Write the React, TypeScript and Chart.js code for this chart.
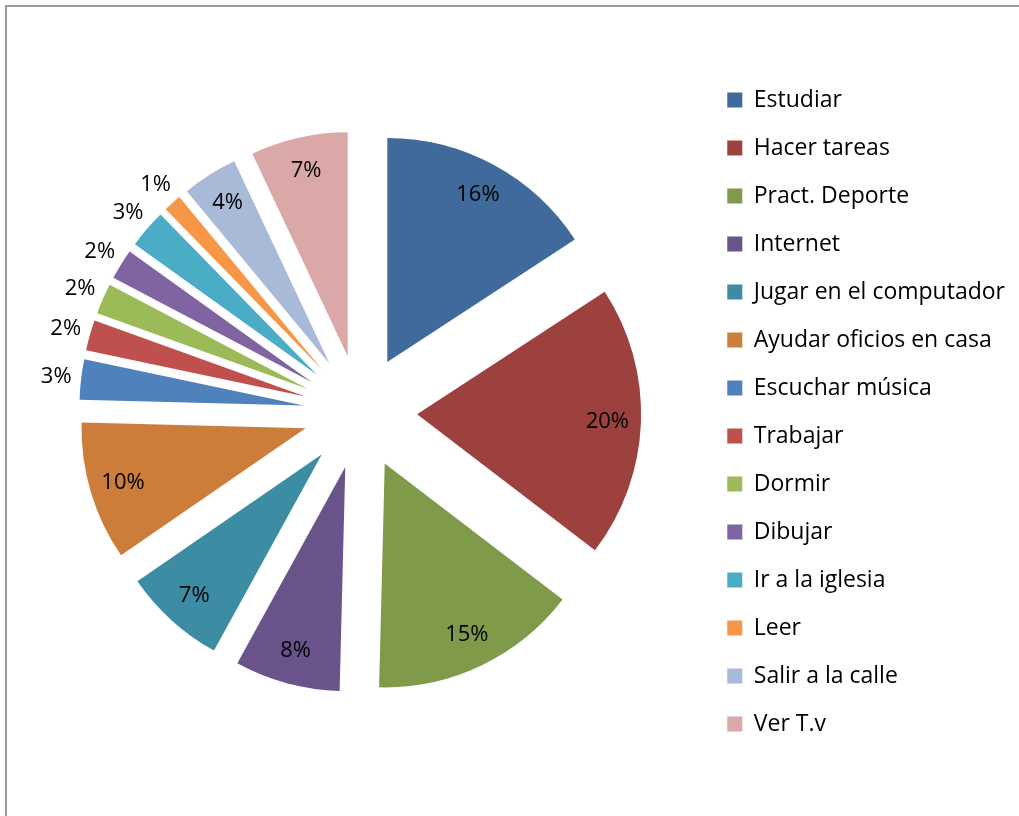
import React, { useEffect, useRef } from "react";
import { Chart, registerables } from "chart.js";

Chart.register(...registerables);

const categories = [
  "Estudiar",
  "Hacer tareas",
  "Pract. Deporte",
  "Internet",
  "Jugar en el computador",
  "Ayudar oficios en casa",
  "Escuchar música",
  "Trabajar",
  "Dormir",
  "Dibujar",
  "Ir a la iglesia",
  "Leer",
  "Salir a la calle",
  "Ver T.v",
];

const values = [15.8, 19.6, 15.0, 7.6, 7.4, 10.0, 2.9, 2.2, 2.2, 2.2, 2.8, 1.3, 4.0, 7.0];

const colors = [
  "#406A9B",
  "#9D413F",
  "#7F9A48",
  "#69538A",
  "#3C8DA3",
  "#CD7D3A",
  "#4F81BD",
  "#C0504D",
  "#9BBB59",
  "#8064A2",
  "#4BACC6",
  "#F79646",
  "#A9B9D8",
  "#D9A8A7",
];

const FONT = "'Open Sans', Lato, sans-serif";
const EXPLODE = 57;
const RADIUS = 224;
const FONT_SIZE = 23;
const LABEL_SIZE = 22;

const explodePlugin = {
  id: "explodeSlices",
  afterDatasetUpdate(chart: any, args: any) {
    const meta = chart.getDatasetMeta(args.index);
    meta.data.forEach((arc: any) => {
      const mid = (arc.startAngle + arc.endAngle) / 2;
      arc.x += Math.cos(mid) * EXPLODE;
      arc.y += Math.sin(mid) * EXPLODE;
    });
  },
};

const labelPlugin = {
  id: "sliceLabels",
  afterDatasetsDraw(chart: any) {
    const ctx = chart.ctx;
    const meta = chart.getDatasetMeta(0);
    const total = values.reduce((a, b) => a + b, 0);
    ctx.save();
    ctx.font = `${LABEL_SIZE}px ${FONT}`;
    ctx.fillStyle = "#000";
    ctx.textAlign = "center";
    ctx.textBaseline = "middle";
    meta.data.forEach((arc: any, i: number) => {
      const mid = (arc.startAngle + arc.endAngle) / 2;
      const outside = values[i] < 3.5;
      const r = outside ? arc.outerRadius + 25 : arc.outerRadius * 0.85;
      const x = arc.x + Math.cos(mid) * r;
      const y = arc.y + Math.sin(mid) * r;
      ctx.fillText(Math.round((values[i] / total) * 100) + "%", x, y);
    });
    ctx.restore();
  },
};

export default function App() {
  const ref = useRef<HTMLCanvasElement>(null);
  useEffect(() => {
    document.body.style.overflow = "hidden";
    document.documentElement.style.overflow = "hidden";
    const chart = new Chart(ref.current as HTMLCanvasElement, {
      type: "pie",
      data: {
        labels: categories,
        datasets: [
          {
            data: values,
            backgroundColor: colors,
            borderWidth: 0,
            radius: RADIUS,
          } as any,
        ],
      },
      options: {
        responsive: false,
        animation: false,
        layout: { padding: { left: 11, right: 2, top: 0, bottom: 0 } },
        plugins: {
          tooltip: { enabled: false },
          legend: {
            position: "right",
            labels: {
              boxWidth: 15,
              boxHeight: 15,
              padding: 25,
              color: "#000",
              font: { family: FONT, size: FONT_SIZE },
            },
          },
        },
      },
      plugins: [explodePlugin, labelPlugin],
    });
    return () => chart.destroy();
  }, []);

  return (
    <div
      style={{
        position: "absolute",
        left: 5,
        top: 5,
        width: 1030,
        height: 830,
        border: "2px solid #9c9c9c",
        background: "#fff",
      }}
    >
      <canvas ref={ref} width={1010} height={810} style={{ display: "block" }} />
    </div>
  );
}
